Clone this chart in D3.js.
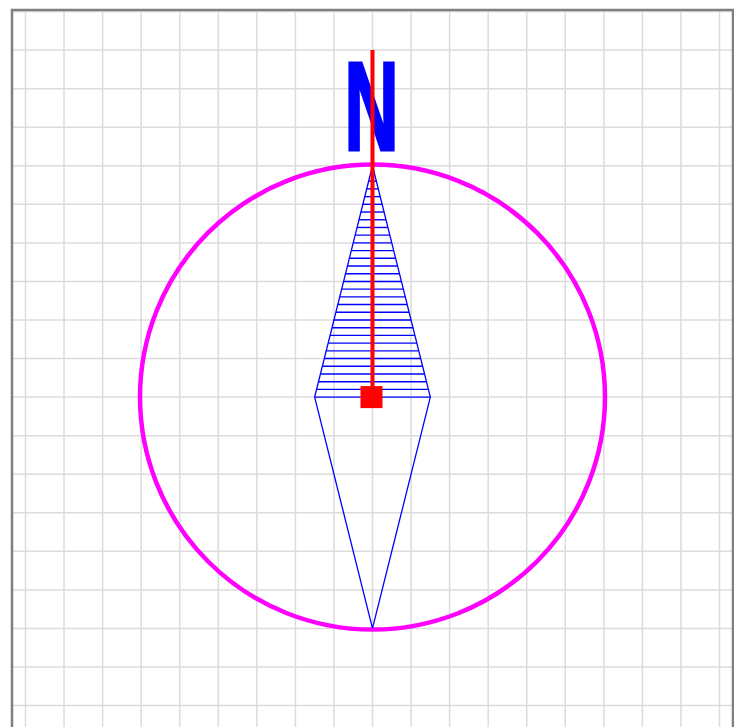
<!DOCTYPE html>
<html>
<head>
<meta charset="utf-8">
<script src="https://cdn.jsdelivr.net/npm/d3@7"></script>
<style>
html,body{margin:0;padding:0;background:#fff;overflow:hidden;}
svg{display:block;}
</style>
</head>
<body>
<svg id="chart" width="734" height="727"></svg>
<script>
// grid ticks (data units)
const gridX = [-9,-8,-7,-6,-5,-4,-3,-2,-1,0,1,2,3,4,5,6,7,8,9];
const gridY = [-10,-9,-8,-7,-6,-5,-4,-3,-2,-1,0,1,2,3,4,5,6,7,8,9,10];
// compass ring
const ringRadius = 6.03;
// needle diamond outline
const diamondX = [0, 1.5, 0, -1.5, 0];
const diamondY = [6, 0, -6, 0, 6];
// hatch levels of the north half
const hatchY = [0,0.2,0.4,0.6,0.8,1.0,1.2,1.4,1.6,1.8,2.0,2.2,2.4,2.6,2.8,3.0,3.2,3.4,3.6,3.8,4.0,4.2,4.4,4.6,4.8,5.0,5.2,5.4,5.6,5.8];
// north pointer
const pointerX = [0, 0];
const pointerY = [0, 9];
const centerPoint = [0, 0];
const northLabel = "N";
const northLabelY = 6.4;

const svg = d3.select("#chart");
const padL = 12, padR = 733, padT = 10;
const x = d3.scaleLinear().domain([-9.35, 9.35]).range([padL, padR]);
const unit = (padR - padL) / 18.7;
const y = d3.scaleLinear().domain([10.04, -10]).range([padT, padT + 20.04 * unit]);

const defs = svg.append("defs");
defs.append("clipPath").attr("id","clip").append("rect")
  .attr("x", padL).attr("y", padT).attr("width", padR - padL).attr("height", 20.04 * unit);

const g = svg.append("g").attr("clip-path","url(#clip)");

// grid
g.selectAll(".gx").data(gridX).join("line")
  .attr("x1", d => x(d)).attr("x2", d => x(d))
  .attr("y1", y(10.04)).attr("y2", y(-10))
  .attr("stroke", "#dcdcdc").attr("stroke-width", 1.5);
g.selectAll(".gy").data(gridY).join("line")
  .attr("y1", d => y(d)).attr("y2", d => y(d))
  .attr("x1", x(-9.35)).attr("x2", x(9.35))
  .attr("stroke", "#dcdcdc").attr("stroke-width", 1.5);

// ring
g.append("circle")
  .attr("cx", x(0)).attr("cy", y(0))
  .attr("r", x(ringRadius) - x(0))
  .attr("fill", "none").attr("stroke", "#ff00ff").attr("stroke-width", 4.5);

// hatch lines (north half)
g.selectAll(".hatch").data(hatchY).join("line")
  .attr("x1", d => x(-1.5 * (1 - d / 6))).attr("x2", d => x(1.5 * (1 - d / 6)))
  .attr("y1", d => y(d)).attr("y2", d => y(d))
  .attr("stroke", "#0000ff").attr("stroke-width", 1.4);

// diamond outline
const line = d3.line().x(d => x(d[0])).y(d => y(d[1]));
g.append("path")
  .attr("d", line(diamondX.map((d, i) => [d, diamondY[i]])))
  .attr("fill", "none").attr("stroke", "#0000ff").attr("stroke-width", 1.3);

// N label
const nx = x(0) - 1, ny = y(northLabelY);
g.append("text")
  .attr("transform", `translate(${nx},${ny}) scale(0.6,1)`)
  .attr("text-anchor", "middle")
  .attr("font-family", "Liberation Sans, Arial, sans-serif")
  .attr("font-weight", "bold")
  .attr("font-size", 126)
  .attr("fill", "#0000ff")
  .attr("stroke", "#0000ff")
  .attr("stroke-width", 3)
  .attr("stroke-linejoin", "miter")
  .text(northLabel);

// pointer
g.append("path")
  .attr("d", line(pointerX.map((d, i) => [d, pointerY[i]])))
  .attr("stroke", "#ff0000").attr("stroke-width", 4).attr("fill", "none");

// center square
g.append("rect")
  .attr("x", x(centerPoint[0]) - 12).attr("y", y(centerPoint[1]) - 11)
  .attr("width", 22).attr("height", 22)
  .attr("fill", "#ff0000");

// frame
svg.append("rect")
  .attr("x", padL).attr("y", padT)
  .attr("width", padR - padL).attr("height", 20.04 * unit)
  .attr("fill", "none").attr("stroke", "#808080").attr("stroke-width", 2.5);
</script>
</body>
</html>
